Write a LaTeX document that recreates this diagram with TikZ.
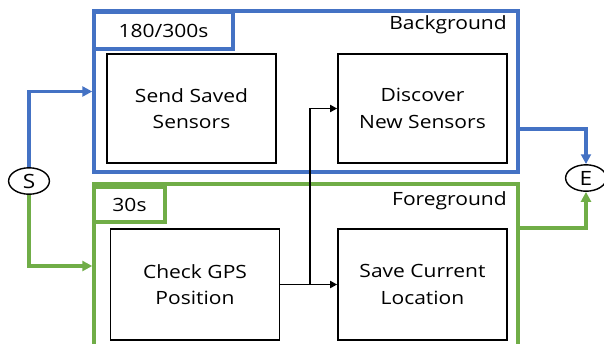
\documentclass[tikz,border=0pt]{standalone}
\usepackage{fontspec}
\setmainfont{Open Sans}[FakeStretch=1.15]
\usetikzlibrary{arrows.meta,shapes.geometric}
\definecolor{bgblue}{HTML}{4472C4}
\definecolor{fggreen}{HTML}{70AD47}
\tikzset{
  task/.style={draw, line width=1.3pt, minimum width=4.22cm, minimum height=2.74cm, align=center, inner sep=0pt},
  frame/.style={draw, line width=2.4pt, inner sep=0pt},
  tag/.style={draw, line width=2.4pt, inner sep=0pt, minimum height=0.92cm},
  endpt/.style={draw, ellipse, line width=1pt, minimum width=1.02cm, minimum height=0.66cm, inner sep=0pt, font=\fontsize{14}{16}\selectfont},
  flow/.style={line width=2.4pt, -{Triangle[length=7pt,width=7pt]}},
  link/.style={line width=1.4pt},
}
\begin{document}
\begin{tikzpicture}[x=0.025cm,y=-0.025cm,font=\fontsize{13}{19}\selectfont]
    \clip (0,0) rectangle (604,343);
    % containers
    \node[frame, draw=bgblue, minimum width=10.6cm, minimum height=4.02cm] (bg) at (306,91.5) {};
    \node[frame, draw=fggreen, minimum width=10.6cm, minimum height=4.1cm] (fg) at (306,266) {};
    \node[tag, draw=bgblue, minimum width=3.47cm] (bgtag) at (163.5,30.5) {180/300s};
    \node[tag, draw=fggreen, minimum width=1.77cm, minimum height=0.87cm] (fgtag) at (129.5,204.5) {30s};
    \node[anchor=east, inner sep=0pt] (bgname) at (507,25) {Background};
    \node[anchor=east, inner sep=0pt] (fgname) at (507,201) {Foreground};

    % tasks
    \node[task] (send) at (191.5,108.5) {Send Saved\\Sensors};
    \node[task] (disc) at (422.5,108.5) {Discover\\New Sensors};
    \node[task, minimum height=2.78cm] (gps) at (195,284.5) {Check GPS\\Position};
    \node[task, minimum height=2.78cm] (save) at (422.5,284.5) {Save Current\\Location};

    % start and end
    \node[endpt] (S) at (29,181) {S};
    \node[endpt] (E) at (586,178) {E};

    \draw[flow, bgblue] (S.north) |- (bg.west);
    \draw[flow, fggreen] (S.south) |- (fg.west);
    \draw[flow, bgblue] ([yshift=-0.94cm]bg.east) -| (E.north);
    \draw[flow, fggreen] ([yshift=0.95cm]fg.east) -| (E.south);

    \draw[link] (gps.east) -- ++(30,0) coordinate (split);
    \draw[link, -{Triangle[length=5pt,width=5pt]}] (split) |- (disc.west);
    \draw[link, -{Triangle[length=5pt,width=5pt]}] (split) -- (save.west);
\end{tikzpicture}
\end{document}
